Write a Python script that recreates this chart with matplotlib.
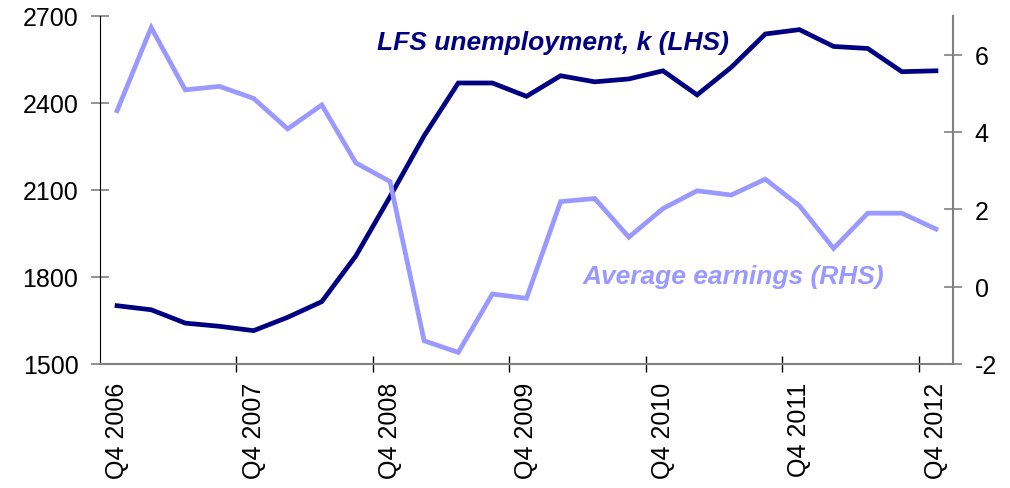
import matplotlib
matplotlib.use("Agg")
import matplotlib.pyplot as plt
import numpy as np

plt.rcParams['font.family'] = ['Liberation Sans', 'DejaVu Sans']

quarters = ["Q4 2006", "Q1 2007", "Q2 2007", "Q3 2007", "Q4 2007", "Q1 2008", "Q2 2008",
            "Q3 2008", "Q4 2008", "Q1 2009", "Q2 2009", "Q3 2009", "Q4 2009", "Q1 2010",
            "Q2 2010", "Q3 2010", "Q4 2010", "Q1 2011", "Q2 2011", "Q3 2011", "Q4 2011",
            "Q1 2012", "Q2 2012", "Q3 2012", "Q4 2012"]
lfs_unemployment = [1701, 1687, 1641, 1630, 1615, 1661, 1715, 1873, 2077, 2287, 2469, 2469,
                    2423, 2494, 2473, 2483, 2511, 2428, 2523, 2638, 2653, 2595, 2588, 2508, 2511]
avg_earnings = [4.55, 6.70, 5.09, 5.18, 4.87, 4.08, 4.70, 3.20, 2.72, -1.40, -1.70, -0.19,
                -0.30, 2.20, 2.28, 1.28, 2.02, 2.48, 2.37, 2.78, 2.09, 0.99, 1.90, 1.90, 1.49]
tick_labels = ["Q4 2006", "Q4 2007", "Q4 2008", "Q4 2009", "Q4 2010", "Q4 2011", "Q4 2012"]
left_ticks = [1500, 1800, 2100, 2400, 2700]
right_ticks = [-2, 0, 2, 4, 6]

navy = "#000080"
lilac = "#9999FF"
gray = "#808080"

fig = plt.figure(figsize=(10.1, 4.89), dpi=100)
ax = fig.add_axes([100/1010, 1-365/489, 853/1010, 348/489])
ax2 = ax.twinx()

x = np.arange(len(quarters))
ax.plot(x, lfs_unemployment, color=navy, lw=3.4, solid_joinstyle='miter')
ax2.plot(x, avg_earnings, color=lilac, lw=3.4, solid_joinstyle='miter')

ax.set_xlim(-0.5, len(quarters) - 0.5)
ax.set_ylim(1500, 2700)
ax2.set_ylim(-2, 7)

ax.set_yticks(left_ticks)
ax.set_yticklabels([str(v) for v in left_ticks], fontsize=18)
ax2.set_yticks(right_ticks)
ax2.set_yticklabels([str(v) for v in right_ticks], fontsize=18)

label_pos = [quarters.index(t) for t in tick_labels]
ax.set_xticks(label_pos)
ax.set_xticklabels(tick_labels, rotation=90, fontsize=18)
ax.tick_params(axis='x', length=0, pad=13)
ax.set_xticks(np.arange(3.5, len(quarters) - 0.5, 4), minor=True)
ax.tick_params(axis='x', which='minor', direction='inout', length=12, color='black', width=1)

ax.tick_params(axis='y', direction='inout', length=13, color=gray, width=1.2, pad=9)
ax2.tick_params(axis='y', direction='inout', length=13, color=gray, width=1.2, pad=9)

for a in (ax, ax2):
    a.spines['top'].set_visible(False)
ax.spines['left'].set_color('black')
ax.spines['right'].set_visible(False)
ax.spines['bottom'].set_color(gray)
ax.spines['bottom'].set_linewidth(1.5)
ax2.spines['left'].set_visible(False)
ax2.spines['bottom'].set_visible(False)
ax2.spines['right'].set_color(gray)
ax2.spines['right'].set_linewidth(1.5)

ax.text(12.78, 2610, "LFS unemployment, k (LHS)", color=navy, fontsize=19,
        fontweight='bold', fontstyle='italic', ha='center', va='center')
ax2.text(18.05, 0.28, "Average earnings (RHS)", color=lilac, fontsize=19,
         fontweight='bold', fontstyle='italic', ha='center', va='center')

fig.savefig("out.png", dpi=100)
